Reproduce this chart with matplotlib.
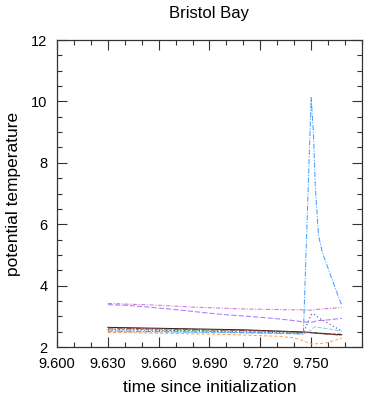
import matplotlib
matplotlib.use("Agg")
import matplotlib.pyplot as plt
from matplotlib.ticker import MultipleLocator, FormatStrFormatter

plt.rcParams['font.family'] = ['Liberation Sans', 'DejaVu Sans']

# time since initialization (days)
t = [9.630, 9.640, 9.650, 9.660, 9.670, 9.680, 9.690, 9.700, 9.710, 9.720,
     9.730, 9.740, 9.7454, 9.750, 9.7514, 9.7524, 9.7543, 9.7565, 9.7593, 9.7642, 9.7681]

purple_up = [3.42, 3.40, 3.38, 3.36, 3.33, 3.30, 3.28, 3.26, 3.24, 3.23,
             3.22, 3.21, 3.21, 3.20, 3.21, 3.22, 3.23, 3.24, 3.25, 3.27, 3.29]
violet_lo = [3.38, 3.36, 3.32, 3.27, 3.22, 3.16, 3.10, 3.05, 3.01, 2.97,
             2.92, 2.86, 2.82, 2.80, 2.82, 2.84, 2.86, 2.87, 2.88, 2.91, 2.93]
blue_spike = [2.52, 2.52, 2.51, 2.50, 2.50, 2.49, 2.49, 2.48, 2.47, 2.46,
              2.45, 2.44, 2.42, 10.12, 8.90, 7.28, 5.65, 5.10, 4.67, 3.92, 3.35]
light_blue = [2.50, 2.50, 2.49, 2.49, 2.48, 2.48, 2.47, 2.47, 2.46, 2.45,
              2.44, 2.43, 2.42, 2.55, 2.63, 2.66, 2.64, 2.62, 2.60, 2.55, 2.52]
black = [2.64, 2.63, 2.62, 2.61, 2.60, 2.59, 2.58, 2.57, 2.56, 2.54,
         2.52, 2.50, 2.49, 2.47, 2.46, 2.46, 2.45, 2.44, 2.43, 2.41, 2.40]
dark_red = [2.62, 2.61, 2.60, 2.59, 2.58, 2.57, 2.56, 2.55, 2.54, 2.53,
            2.51, 2.49, 2.48, 2.47, 2.46, 2.45, 2.44, 2.43, 2.42, 2.40, 2.38]
green = [2.58, 2.58, 2.57, 2.56, 2.55, 2.54, 2.53, 2.53, 2.52, 2.51,
         2.50, 2.48, 2.47, 2.46, 2.46, 2.45, 2.45, 2.45, 2.44, 2.43, 2.43]
orange = [2.47, 2.47, 2.46, 2.45, 2.44, 2.43, 2.42, 2.41, 2.39, 2.37,
          2.35, 2.30, 2.20, 2.10, 2.10, 2.10, 2.11, 2.12, 2.14, 2.22, 2.29]
navy = [2.56, 2.56, 2.55, 2.54, 2.53, 2.52, 2.51, 2.50, 2.49, 2.48,
        2.47, 2.46, 2.46, 3.05, 3.08, 3.04, 2.96, 2.88, 2.80, 2.64, 2.52]

fig = plt.figure(figsize=(3.75, 3.99), dpi=100)
ax = fig.add_axes([0.152, 0.1303, 0.8133, 0.7694])

lw = 0.75
ax.plot(t, purple_up, color="#cc77cc", lw=lw, dashes=(4, 1.5, 1, 1.5))
ax.plot(t, violet_lo, color="#aa77ff", lw=lw, dashes=(5, 2))
ax.plot(t, green, color="#77bb77", lw=lw, dashes=(3, 1.5))
ax.plot(t, black, color="#222222", lw=lw)
ax.plot(t, dark_red, color="#993333", lw=lw, dashes=(5, 1.5, 1, 1.5))
ax.plot(t, light_blue, color="#88ccff", lw=lw, dashes=(4, 1.5))
ax.plot(t, orange, color="#ffa050", lw=lw, dashes=(3, 2))
ax.plot(t, navy, color="#333377", lw=lw, dashes=(1, 2.5))
ax.plot(t, blue_spike, color="#44a0ff", lw=lw, dashes=(5, 1.5, 1, 1.5))

ax.set_xlim(9.600, 9.780)
ax.set_ylim(2, 12)
ax.xaxis.set_major_locator(MultipleLocator(0.03))
ax.xaxis.set_minor_locator(MultipleLocator(0.01))
ax.xaxis.set_major_formatter(FormatStrFormatter('%.3f'))
ax.yaxis.set_major_locator(MultipleLocator(2))
ax.yaxis.set_minor_locator(MultipleLocator(0.5))
ax.set_xticks([9.600, 9.630, 9.660, 9.690, 9.720, 9.750])
ax.tick_params(which="both", direction="in", top=True, right=True,
               labelsize=10.5, width=0.8, color="#333333")
ax.tick_params(which="major", length=7, pad=7)
ax.tick_params(which="minor", length=3.5)
for s in ax.spines.values():
    s.set_linewidth(0.9)
    s.set_color("#333333")

ax.set_title("Bristol Bay", fontsize=12, pad=16)
ax.set_xlabel("time since initialization", fontsize=12.5, labelpad=7)
ax.set_ylabel("potential temperature", fontsize=12.5, labelpad=7)

fig.savefig("out.png", dpi=100)
